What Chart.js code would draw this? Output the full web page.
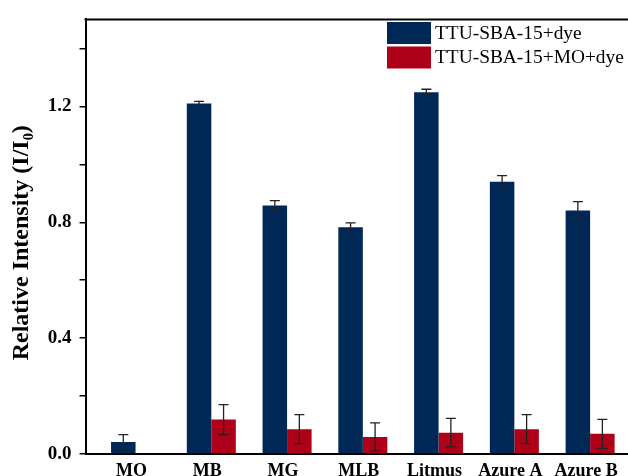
<!DOCTYPE html>
<html>
  <head>
    <title>Relative intensity</title>
    <script src="https://cdn.jsdelivr.net/npm/chart.js@4"></script>
    <style>
      html, body { margin: 0; padding: 0; background: #fff; overflow: hidden; }
    </style>
  </head>
  <body>
    <canvas id="graph" width="628" height="481"></canvas>
    <script>
      const dyes = ["MO", "MB", "MG", "MLB", "Litmus", "Azure A", "Azure B"]
      const seriesNames = ["TTU-SBA-15+dye", "TTU-SBA-15+MO+dye"]
      const withDye = [0.042, 1.210, 0.858, 0.783, 1.249, 0.940, 0.841]
      const withDyeErr = [0.025, 0.007, 0.017, 0.015, 0.010, 0.021, 0.030]
      const withMoDye = [null, 0.119, 0.086, 0.059, 0.074, 0.086, 0.070]
      const withMoDyeErr = [null, 0.052, 0.050, 0.049, 0.049, 0.050, 0.050]
      const yLabelled = [0, 0.4, 0.8, 1.2]

      const serif = "'Liberation Serif', 'Times New Roman', serif"
      const colors = { navy: "#002856", red: "#ae0019", err: "#222222" }

      // error bars drawn over the bars, positions from the chart scales
      const errorBars = {
        id: "errorBars",
        afterDatasetsDraw(chart) {
          const { ctx, scales: { y } } = chart
          const errs = [withDyeErr, withMoDyeErr]
          ctx.save()
          ctx.strokeStyle = colors.err
          ctx.lineWidth = 1.3
          chart.data.datasets.forEach((ds, i) => {
            const meta = chart.getDatasetMeta(i)
            meta.data.forEach((bar, j) => {
              const v = ds.data[j].y
              const e = errs[i][j]
              if (v == null || e == null) return
              const top = y.getPixelForValue(v + e)
              const bot = y.getPixelForValue(v - e)
              ctx.beginPath()
              ctx.moveTo(bar.x, top); ctx.lineTo(bar.x, bot)
              ctx.moveTo(bar.x - 5, top); ctx.lineTo(bar.x + 5, top)
              ctx.moveTo(bar.x - 5, bot); ctx.lineTo(bar.x + 5, bot)
              ctx.stroke()
            })
          })
          ctx.restore()
        }
      }

      // top frame line and the boxed legend
      const frameAndLegend = {
        id: "frameAndLegend",
        afterDraw(chart) {
          const { ctx, chartArea } = chart
          ctx.save()
          ctx.strokeStyle = "#000"
          ctx.lineWidth = 2
          ctx.beginPath()
          ctx.moveTo(chartArea.left - 1, chartArea.top)
          ctx.lineTo(chartArea.right + 2, chartArea.top)
          ctx.stroke()

          ctx.font = "19.4px " + serif
          ctx.textBaseline = "middle"
          ctx.textAlign = "left"
          chart.data.datasets.forEach((ds, i) => {
            const top = 22 + i * 24.5
            ctx.fillStyle = ds.backgroundColor
            ctx.fillRect(387, top, 44, 22)
            ctx.fillStyle = "#000"
            ctx.fillText(ds.label, 435, top + 11.5)
          })
          ctx.restore()
        }
      }

      new Chart(document.getElementById("graph"), {
        type: "bar",
        data: {
          datasets: [
            {
              label: seriesNames[0],
              data: dyes.map((_, i) => ({ x: i, y: withDye[i] })),
              backgroundColor: colors.navy,
            },
            {
              label: seriesNames[1],
              data: dyes.map((_, i) => ({ x: i, y: withMoDye[i] })),
              backgroundColor: colors.red,
            },
          ],
        },
        options: {
          responsive: false,
          animation: false,
          layout: { padding: { left: 7, top: 12, right: 0, bottom: 0 } },
          datasets: {
            bar: { categoryPercentage: 0.647, barPercentage: 1.0, borderWidth: 0 }
          },
          plugins: {
            legend: { display: false },
            tooltip: { enabled: false },
          },
          scales: {
            x: {
              type: "linear",
              offset: false,
              min: -0.66,
              max: 6.5,
              grid: { display: false },
              border: { display: true, color: "#000", width: 2 },
              ticks: {
                stepSize: 1,
                includeBounds: false,
                autoSkip: false,
                maxRotation: 0,
                padding: 0,
                labelOffset: -4,
                color: "#000",
                font: { family: serif, size: 18, weight: "bold", lineHeight: 1.05 },
                callback: v => dyes[v] ?? "",
              },
            },
            y: {
              min: 0,
              max: 1.5,
              grid: {
                drawOnChartArea: false,
                drawTicks: true,
                tickLength: 6,
                color: "#000",
                lineWidth: 1.5,
              },
              border: { display: true, color: "#000", width: 2 },
              ticks: {
                stepSize: 0.2,
                includeBounds: false,
                padding: 8,
                color: "#000",
                font: { family: serif, size: 19, weight: "bold" },
                callback: v => yLabelled.some(t => Math.abs(t - v) < 1e-6) ? v.toFixed(1) : "",
              },
              title: {
                display: true,
                text: "Relative Intensity (I/I₀)  ",
                color: "#000",
                font: { family: serif, size: 24, weight: "bold" },
                padding: { top: 0, bottom: 4 },
              },
            },
          },
        },
        plugins: [errorBars, frameAndLegend],
      })
    </script>
  </body>
</html>
